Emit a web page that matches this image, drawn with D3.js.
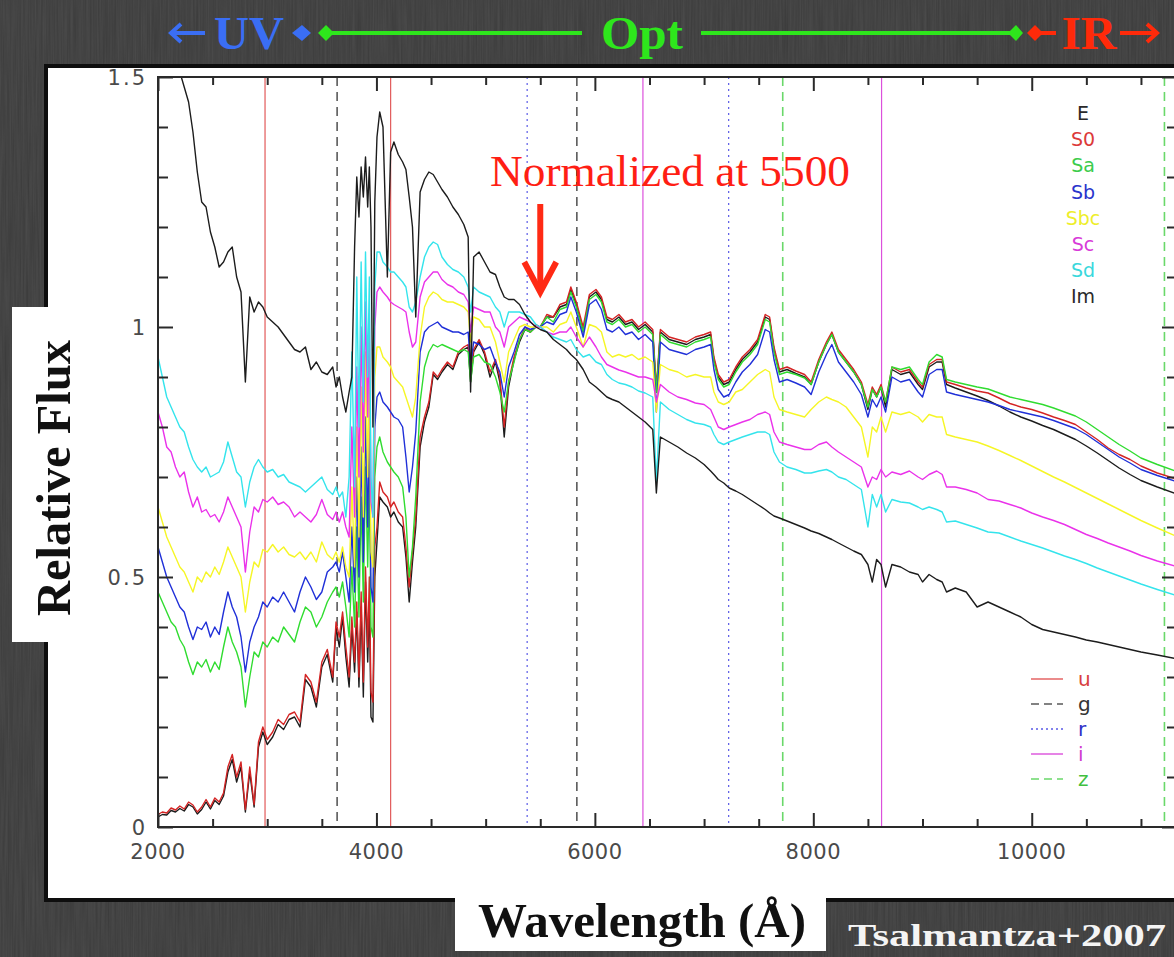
<!DOCTYPE html>
<html>
<head>
<meta charset="utf-8">
<title>Galaxy template spectra</title>
<script src="https://cdn.jsdelivr.net/npm/d3@7/dist/d3.min.js"></script>
<style>
  html, body { margin: 0; padding: 0; background: #3a3a3a; overflow: hidden; }
  svg { display: block; }
</style>
</head>
<body>
<svg id="chart" width="1174" height="957"></svg>
<script>
// Wavelength grid (Angstrom) shared by all template spectra
const wave = [
  2000,2040,2080,2120,2160,2200,2240,2280,2320,2360,2400,2440,2480,2520,2560,2600,2640,2680,2720,2760,2800,2840,2880,2920,2960,3000,3050,3100,3150,3200,3250,3300,3350,3400,3450,3500,3550,3600,
  3630,3660,3690,3720,3750,3775,3800,3820,3840,3860,3880,3900,3920,3935,3950,3968,3985,4005,4030,4060,4100,4130,4160,4200,4240,4270,4300,4330,4360,4400,4440,4480,
  4520,4560,4600,4650,4700,4750,4800,4840,4862,4890,4940,4990,5040,5090,5130,5170,5210,5260,5310,5360,5410,5460,5500,5560,5620,5680,5740,5780,5830,5893,5950,6010,
  6060,6110,6160,6220,6280,6340,6400,6460,6530,6563,6600,6680,6760,6840,6920,7000,7060,7090,7130,7180,7230,7290,7350,7420,7490,7560,7600,7640,7690,7760,7840,7920,7980,8050,8120,8170,8230,8300,8370,8440,8500,8540,8580,8620,8662,8720,8800,8880,8960,9000,9060,9130,9180,9220,9300,9400,
  9500,9600,9700,9800,9900,10000,10100,10200,10300,10400,10500,10600,10700,10800,10900,11000,11150,11340
];

// Relative flux of each template, normalised at 5500 A
const fluxE = [
  .02,.025,.024,.033,.03,.037,.032,.045,.04,.026,.035,.05,.036,.053,.045,.062,.11,.135,.09,.12,.03,.11,.04,.16,.19,.165,.18,.205,.195,.215,.22,.2,.295,.28,.24,.32,.345,.29,
  .40,.36,.42,.34,.28,.40,.31,.43,.28,.44,.26,.49,.33,.45,.22,.21,.50,.57,.66,.65,.64,.62,.63,.61,.60,.54,.45,.53,.60,.76,.81,.84,
  .905,.895,.91,.925,.915,.945,.955,.96,.89,.95,.97,.945,.90,.93,.89,.78,.88,.935,.97,.995,.99,1.0,1.0,1.02,1.02,1.04,1.045,1.075,1.045,.99,1.06,1.07,
  1.055,1.015,1.01,1.02,1.005,1.01,.995,1.005,.99,.87,.99,.975,.97,.965,.975,.98,.985,.935,.9,.885,.89,.915,.935,.95,.97,1.02,1.015,.955,.91,.915,.907,.9,.885,.93,.965,.985,.95,.93,.91,.885,.835,.875,.86,.88,.84,.915,.905,.91,.885,.875,.92,.93,.93,.885,.878,.87,
  .862,.853,.842,.83,.82,.812,.803,.795,.785,.775,.762,.748,.733,.718,.705,.693,.68,.665
];
const fluxS0 = [
  .025,.03,.028,.038,.034,.042,.036,.05,.044,.03,.04,.055,.04,.058,.05,.068,.12,.145,.10,.13,.035,.12,.045,.17,.20,.175,.19,.215,.205,.225,.23,.21,.305,.29,.25,.33,.355,.30,
  .41,.38,.43,.36,.30,.42,.33,.45,.30,.47,.29,.52,.36,.50,.27,.25,.56,.60,.69,.67,.66,.64,.65,.63,.62,.56,.48,.55,.62,.78,.82,.85,
  .91,.90,.915,.93,.92,.95,.96,.965,.90,.955,.975,.95,.91,.935,.90,.80,.89,.94,.975,1.0,.99,1.005,1.0,1.025,1.02,1.045,1.05,1.08,1.05,1.0,1.065,1.075,
  1.06,1.02,1.015,1.025,1.01,1.015,1.0,1.01,.995,.88,.995,.98,.975,.97,.98,.985,.99,.94,.905,.89,.895,.92,.94,.955,.975,1.025,1.02,.96,.915,.92,.912,.905,.89,.935,.97,.99,.955,.935,.915,.89,.845,.88,.865,.885,.85,.92,.91,.915,.89,.88,.925,.935,.935,.89,.885,.878,
  .872,.868,.858,.847,.84,.835,.828,.82,.813,.805,.79,.775,.758,.745,.735,.722,.708,.695
];
const fluxSa = [
  .47,.45,.43,.41,.40,.375,.36,.33,.305,.33,.32,.335,.31,.33,.315,.36,.40,.37,.35,.32,.24,.30,.35,.34,.37,.36,.38,.37,.40,.385,.37,.41,.44,.43,.40,.42,.45,.47,
  .48,.46,.49,.44,.38,.52,.40,.60,.42,.66,.45,.72,.52,.70,.40,.38,.70,.76,.78,.75,.73,.72,.71,.70,.68,.62,.50,.56,.66,.85,.92,.95,
  .965,.96,.965,.96,.955,.95,.955,.95,.89,.94,.945,.93,.925,.90,.87,.83,.89,.93,.975,.995,.99,1.0,1.0,1.02,1.01,1.035,1.04,1.07,1.04,.99,1.055,1.065,
  1.05,1.01,1.005,1.015,1.0,1.005,.99,1.0,.985,.87,.985,.97,.965,.96,.97,.975,.98,.93,.895,.88,.885,.91,.93,.945,.965,1.015,1.01,.95,.905,.91,.905,.898,.885,.93,.965,.985,.95,.93,.91,.885,.84,.875,.86,.88,.85,.92,.915,.92,.895,.885,.93,.945,.94,.895,.89,.885,
  .88,.876,.868,.86,.855,.85,.845,.838,.83,.822,.81,.795,.78,.765,.752,.738,.725,.71
];
const fluxSb = [
  .56,.53,.50,.48,.46,.44,.43,.40,.375,.40,.395,.41,.38,.40,.385,.43,.47,.44,.42,.38,.31,.37,.40,.42,.45,.44,.46,.45,.47,.45,.43,.47,.50,.48,.455,.47,.51,.52,
  .53,.51,.55,.50,.45,.60,.47,.70,.50,.76,.53,.82,.60,.80,.48,.45,.80,.86,.87,.85,.84,.83,.82,.815,.80,.74,.67,.72,.79,.95,.99,1.0,
  1.005,1.01,1.0,.995,.99,.99,.985,.99,.92,.97,.965,.955,.96,.93,.91,.86,.92,.95,.985,1.0,.995,1.0,1.0,1.01,1.005,1.025,1.03,1.06,1.03,.98,1.045,1.055,
  1.035,.995,.99,1.0,.985,.99,.975,.985,.97,.83,.97,.955,.95,.945,.955,.96,.965,.915,.875,.86,.865,.89,.91,.925,.945,.995,.99,.935,.89,.895,.888,.88,.865,.91,.945,.965,.93,.91,.89,.865,.82,.855,.84,.86,.83,.90,.89,.895,.87,.86,.905,.915,.915,.87,.865,.86,
  .855,.85,.843,.835,.83,.825,.82,.813,.805,.797,.785,.77,.755,.74,.728,.715,.703,.69
];
const fluxSbc = [
  .64,.61,.58,.56,.54,.52,.51,.49,.47,.50,.49,.51,.50,.52,.505,.53,.56,.54,.52,.50,.43,.49,.53,.52,.555,.55,.565,.55,.56,.545,.54,.55,.535,.55,.53,.57,.545,.535,
  .55,.53,.56,.52,.50,.68,.52,.80,.58,.88,.62,.95,.70,.92,.55,.52,.90,.96,.96,.94,.93,.92,.90,.89,.88,.86,.84,.82,.86,.98,1.04,1.06,
  1.07,1.065,1.055,1.05,1.05,1.045,1.04,1.03,.97,1.02,1.015,1.0,1.0,.97,.93,.89,.95,.975,1.0,1.005,1.0,1.0,1.0,1.0,.99,1.005,1.01,1.03,1.0,.96,1.005,1.0,
  .99,.95,.94,.945,.94,.945,.935,.94,.93,.83,.925,.915,.91,.90,.905,.90,.90,.87,.85,.845,.85,.87,.875,.89,.905,.915,.91,.86,.835,.83,.825,.82,.835,.85,.86,.855,.85,.84,.82,.80,.74,.80,.79,.82,.79,.83,.825,.83,.82,.81,.825,.82,.82,.785,.78,.775,
  .77,.762,.753,.743,.733,.722,.711,.70,.69,.679,.668,.657,.646,.635,.624,.613,.598,.58
];
const fluxSc = [
  .83,.80,.76,.75,.72,.70,.71,.67,.64,.66,.63,.635,.62,.625,.61,.63,.66,.64,.62,.60,.51,.59,.64,.63,.655,.65,.66,.645,.65,.64,.62,.63,.62,.61,.625,.655,.625,.615,
  .63,.61,.63,.60,.58,.80,.62,.92,.70,1.0,.75,1.05,.82,1.02,.65,.62,1.0,1.07,1.08,1.07,1.06,1.05,1.045,1.04,1.035,1.03,.99,.96,.97,1.06,1.09,1.10,
  1.11,1.11,1.095,1.085,1.08,1.07,1.065,1.05,.99,1.04,1.035,1.03,1.03,1.0,.99,.96,1.0,1.01,1.02,1.015,1.01,1.0,1.0,.99,.985,.99,.99,1.0,.98,.96,.98,.96,
  .94,.925,.92,.914,.91,.905,.90,.90,.895,.85,.885,.87,.86,.855,.848,.845,.835,.82,.80,.795,.80,.805,.81,.815,.825,.83,.825,.79,.77,.765,.76,.755,.755,.765,.77,.76,.75,.74,.73,.72,.68,.70,.695,.715,.70,.71,.705,.712,.70,.695,.705,.712,.705,.68,.68,.675,
  .668,.655,.652,.645,.638,.628,.62,.613,.605,.595,.585,.577,.568,.56,.552,.543,.532,.52
];
const fluxSd = [
  .94,.90,.86,.84,.82,.80,.79,.76,.735,.72,.71,.72,.70,.705,.71,.73,.77,.74,.71,.70,.64,.69,.72,.735,.72,.71,.715,.70,.705,.69,.685,.68,.67,.68,.69,.70,.675,.665,
  .68,.66,.67,.62,.70,.95,.68,1.10,.80,1.13,.85,1.15,.90,1.10,.70,.62,1.08,1.15,1.15,1.13,1.12,1.11,1.11,1.10,1.09,1.08,1.04,1.03,1.05,1.10,1.14,1.16,
  1.17,1.165,1.14,1.125,1.115,1.11,1.10,1.08,1.03,1.08,1.07,1.065,1.06,1.04,1.03,1.0,1.03,1.03,1.03,1.025,1.02,1.005,1.0,.99,.98,.975,.97,.975,.955,.94,.945,.93,
  .925,.905,.895,.888,.885,.88,.872,.868,.86,.69,.85,.835,.825,.815,.808,.805,.80,.785,.77,.765,.77,.775,.78,.785,.79,.79,.785,.75,.73,.72,.715,.708,.708,.712,.715,.71,.70,.695,.685,.675,.60,.665,.64,.665,.63,.655,.65,.648,.64,.635,.64,.635,.63,.61,.612,.605,
  .598,.59,.588,.58,.572,.565,.558,.55,.542,.535,.527,.518,.51,.502,.494,.486,.475,.462
];
const fluxIm = [
  1.62,1.59,1.57,1.55,1.53,1.51,1.48,1.45,1.39,1.31,1.25,1.24,1.19,1.16,1.12,1.13,1.15,1.16,1.10,1.07,.89,1.06,1.03,1.05,1.04,1.02,1.01,1.0,.985,.97,.955,.95,.96,.915,.93,.91,.905,.92,
  .88,.90,.86,.83,.87,.90,1.16,1.30,1.22,1.32,1.26,1.34,1.24,1.32,1.20,.80,1.25,1.38,1.43,1.40,1.10,1.35,1.37,1.345,1.33,1.315,1.26,1.20,1.02,1.27,1.295,1.31,
  1.305,1.29,1.275,1.26,1.24,1.225,1.205,1.18,.87,1.14,1.15,1.13,1.11,1.105,1.08,1.06,1.055,1.055,1.045,1.025,1.01,1.0,.995,.99,.975,.965,.955,.945,.935,.915,.89,.88,
  .87,.86,.855,.85,.84,.83,.82,.81,.795,.668,.78,.77,.76,.748,.738,.725,.712,.705,.695,.688,.678,.672,.665,.655,.645,.635,.628,.622,.618,.612,.605,.598,.592,.587,.58,.575,.568,.56,.552,.545,.525,.49,.535,.525,.48,.525,.52,.51,.505,.49,.505,.495,.49,.47,.478,.47,
  .44,.45,.44,.43,.42,.405,.395,.39,.385,.38,.374,.37,.365,.36,.355,.35,.344,.336
];

const seriesNames  = ["E", "S0", "Sa", "Sb", "Sbc", "Sc", "Sd", "Im"];
const seriesFlux   = [fluxE, fluxS0, fluxSa, fluxSb, fluxSbc, fluxSc, fluxSd, fluxIm];
const seriesColors = ["#1c1c1c", "#d42424", "#30dc30", "#2030d8", "#f6f626", "#ea32ea", "#34e4ec", "#1c1c1c"];
const legendColors = ["#2a2a2a", "#dc3a3a", "#3ccc4c", "#2a34cc", "#eeee2a", "#d83ad8", "#3ad8dc", "#2a2a2a"];

// SDSS filter band edges (Angstrom)
const filterNames  = ["u", "g", "r", "i", "z"];
const filterEdges  = [[2980, 4130], [3640, 5835], [5380, 7225], [6440, 8625], [7720, 11215]];
const filterColors = ["#e25a5a", "#5a5a5a", "#5a5ae6", "#dc50dc", "#6ad86a"];
const filterText   = ["#d84040", "#333333", "#3030c8", "#d040d0", "#40c040"];
const filterDash   = [null, "9,6", "2,4", null, "9,6"];
const filterWidth  = [1.2, 1.6, 1.2, 1.2, 1.6];

const xMajorTicks = [2000, 4000, 6000, 8000, 10000];
const yMajorTicks = [0, 0.5, 1, 1.5];
const yTickLabels = ["0", "0.5", "1", "1.5"];

const W = 1174, H = 957;
const svg = d3.select("#chart");

// ---- background with a faint brushed texture
const defs = svg.append("defs");
const tex = defs.append("filter").attr("id", "tex").attr("x", 0).attr("y", 0).attr("width", 1).attr("height", 1);
tex.append("feTurbulence").attr("type", "fractalNoise").attr("baseFrequency", "0.6 0.015").attr("numOctaves", 2).attr("seed", 3);
tex.append("feColorMatrix").attr("values", "0 0 0 0 0.3  0 0 0 0 0.3  0 0 0 0 0.3  0 0 0 0.35 0");
tex.append("feComposite").attr("in2", "SourceGraphic").attr("operator", "in");
svg.append("rect").attr("width", W).attr("height", H).attr("fill", "#3a3a3a");
svg.append("rect").attr("width", W).attr("height", H).attr("fill", "#3a3a3a").attr("filter", "url(#tex)").attr("opacity", 0.6);

// ---- header: UV / Opt / IR ranges
const hdr = svg.append("g");
const hy = 33;
const blue = "#3a6ef4", green = "#2ee61c", red = "#ff2a0a";
hdr.append("path").attr("d", `M171,${hy} L205,${hy} M181,${hy-9} L171,${hy} L181,${hy+9}`)
  .attr("stroke", blue).attr("stroke-width", 4).attr("fill", "none");
hdr.append("text").attr("x", 249).attr("y", 49).attr("text-anchor", "middle")
  .attr("font-family", "Liberation Serif, serif").attr("font-weight", "bold").attr("font-size", 46)
  .attr("fill", blue).attr("textLength", 70).attr("lengthAdjust", "spacingAndGlyphs").text("UV");
hdr.append("path").attr("d", `M292,${hy} L302,${hy-8} L311,${hy} L302,${hy+8} Z`).attr("fill", blue);
hdr.append("path").attr("d", `M318,${hy} L326,${hy-8} L334,${hy} L326,${hy+8} Z`).attr("fill", green);
hdr.append("line").attr("x1", 330).attr("x2", 582).attr("y1", hy).attr("y2", hy).attr("stroke", green).attr("stroke-width", 4);
hdr.append("text").attr("x", 642).attr("y", 49).attr("text-anchor", "middle")
  .attr("font-family", "Liberation Serif, serif").attr("font-weight", "bold").attr("font-size", 46)
  .attr("fill", green).attr("textLength", 82).attr("lengthAdjust", "spacingAndGlyphs").text("Opt");
hdr.append("line").attr("x1", 701).attr("x2", 1012).attr("y1", hy).attr("y2", hy).attr("stroke", green).attr("stroke-width", 4);
hdr.append("path").attr("d", `M1008,${hy} L1016,${hy-8} L1023,${hy} L1016,${hy+8} Z`).attr("fill", green);
hdr.append("path").attr("d", `M1027,${hy} L1035,${hy-8} L1043,${hy} L1035,${hy+8} Z`).attr("fill", red);
hdr.append("line").attr("x1", 1040).attr("x2", 1056).attr("y1", hy).attr("y2", hy).attr("stroke", red).attr("stroke-width", 4);
hdr.append("text").attr("x", 1089).attr("y", 49).attr("text-anchor", "middle")
  .attr("font-family", "Liberation Serif, serif").attr("font-weight", "bold").attr("font-size", 46)
  .attr("fill", red).attr("textLength", 55).attr("lengthAdjust", "spacingAndGlyphs").text("IR");
hdr.append("path").attr("d", `M1120,${hy} L1157,${hy} M1147,${hy-9} L1157,${hy} L1147,${hy+9}`)
  .attr("stroke", red).attr("stroke-width", 4).attr("fill", "none");

// ---- white figure panel with dark frame
svg.append("rect").attr("x", 46).attr("y", 66).attr("width", 1200).attr("height", 834)
  .attr("fill", "#ffffff").attr("stroke", "#0e0e0e").attr("stroke-width", 4);

// ---- scales
const x = d3.scaleLinear().domain([2000, 11330]).range([158, 1177]);
const y = d3.scaleLinear().domain([0, 1.5]).range([827, 77]);

const plot = svg.append("g");
defs.append("clipPath").attr("id", "plotclip").append("rect")
  .attr("x", 158).attr("y", 77).attr("width", 1177 - 158).attr("height", 827 - 77);

// ---- filter band edges
const bands = plot.append("g").attr("clip-path", "url(#plotclip)");
filterEdges.forEach((edges, i) => {
  edges.forEach(w => {
    const l = bands.append("line").attr("x1", x(w)).attr("x2", x(w)).attr("y1", y(1.5)).attr("y2", y(0))
      .attr("stroke", filterColors[i]).attr("stroke-width", filterWidth[i]);
    if (filterDash[i]) l.attr("stroke-dasharray", filterDash[i]);
  });
});

// ---- spectra
const line = d3.line().x(d => x(d[0])).y(d => y(d[1]));
const spectra = plot.append("g").attr("clip-path", "url(#plotclip)");
seriesFlux.forEach((flux, i) => {
  const pts = wave.map((w, k) => [w, flux[k]]).filter(d => d[1] !== undefined);
  spectra.append("path").datum(pts).attr("d", line)
    .attr("fill", "none").attr("stroke", seriesColors[i]).attr("stroke-width", 1.4)
    .attr("stroke-linejoin", "round");
});

// ---- axes (ticks point inwards, PGPLOT style)
const axisColor = "#2a2a2a";
const xMinor = d3.range(2000, 11331, 500).filter(v => !xMajorTicks.includes(v));
const yMinor = d3.range(0, 1.51, 0.1).filter(v => !yMajorTicks.some(t => Math.abs(t - v) < 1e-6));
function styleAxis(g) {
  g.select(".domain").remove();
  g.selectAll(".tick line").attr("stroke", axisColor).attr("stroke-width", 2);
  g.selectAll(".tick text").remove();
}
plot.append("g").attr("transform", "translate(0,827)").call(d3.axisBottom(x).tickValues(xMinor).tickSize(-8)).call(styleAxis);
plot.append("g").attr("transform", "translate(0,827)").call(d3.axisBottom(x).tickValues(xMajorTicks).tickSize(-14)).call(styleAxis);
plot.append("g").attr("transform", "translate(0,77)").call(d3.axisTop(x).tickValues(xMinor).tickSize(-8)).call(styleAxis);
plot.append("g").attr("transform", "translate(0,77)").call(d3.axisTop(x).tickValues(xMajorTicks).tickSize(-14)).call(styleAxis);
plot.append("g").attr("transform", "translate(158,0)").call(d3.axisLeft(y).tickValues(yMinor).tickSize(-10)).call(styleAxis);
plot.append("g").attr("transform", "translate(158,0)").call(d3.axisLeft(y).tickValues(yMajorTicks).tickSize(-15)).call(styleAxis);
plot.append("g").attr("transform", "translate(1177,0)").call(d3.axisRight(y).tickValues(yMinor).tickSize(-10)).call(styleAxis);
plot.append("g").attr("transform", "translate(1177,0)").call(d3.axisRight(y).tickValues(yMajorTicks).tickSize(-15)).call(styleAxis);
plot.append("rect").attr("x", 158).attr("y", 77).attr("width", 1177 - 158).attr("height", 750)
  .attr("fill", "none").attr("stroke", axisColor).attr("stroke-width", 2);

// tick labels
const tickFont = "DejaVu Sans, sans-serif";
plot.selectAll(".xlab").data(xMajorTicks).enter().append("text")
  .attr("x", d => x(d)).attr("y", 859).attr("text-anchor", "middle")
  .attr("font-family", tickFont).attr("font-size", 21).attr("fill", "#4a4a4a").attr("letter-spacing", 0.5)
  .text(d => d);
plot.selectAll(".ylab").data(yMajorTicks).enter().append("text")
  .attr("x", 147).attr("y", d => y(d) + 8).attr("text-anchor", "end")
  .attr("font-family", tickFont).attr("font-size", 21).attr("fill", "#4a4a4a").attr("letter-spacing", 2)
  .text((d, i) => yTickLabels[i]);

// ---- template legend (top right)
const leg = plot.append("g");
seriesNames.forEach((n, i) => {
  leg.append("text").attr("x", 1083).attr("y", 120 + i * 26.2).attr("text-anchor", "middle")
    .attr("font-family", tickFont).attr("font-size", 19).attr("fill", legendColors[i]).text(n);
});

// ---- filter legend (bottom right)
filterNames.forEach((n, i) => {
  const ly = 679 + i * 25;
  const l = leg.append("line").attr("x1", 1031).attr("x2", 1063).attr("y1", ly).attr("y2", ly)
    .attr("stroke", filterColors[i]).attr("stroke-width", 1.4);
  if (filterDash[i]) l.attr("stroke-dasharray", filterDash[i] === "2,4" ? "2,3" : "8,5");
  leg.append("text").attr("x", 1078).attr("y", ly + 7).attr("font-family", tickFont).attr("font-size", 20)
    .attr("fill", filterText[i]).text(n);
});

// ---- normalisation annotation
const ann = svg.append("g");
ann.append("text").attr("x", 490).attr("y", 186).attr("font-family", "Liberation Serif, serif")
  .attr("font-size", 44).attr("fill", "#ff1e14").attr("textLength", 360).attr("lengthAdjust", "spacingAndGlyphs")
  .text("Normalized at 5500");
ann.append("line").attr("x1", x(5500)).attr("x2", x(5500)).attr("y1", 204).attr("y2", 288)
  .attr("stroke", "#ff2a14").attr("stroke-width", 6);
ann.append("path").attr("d", `M${x(5500) - 16},262 L${x(5500)},292 L${x(5500) + 16},262`)
  .attr("fill", "none").attr("stroke", "#ff2a14").attr("stroke-width", 6);

// ---- axis titles on white tabs
svg.append("rect").attr("x", 12).attr("y", 307).attr("width", 40).attr("height", 335).attr("fill", "#ffffff");
svg.append("text").attr("transform", "translate(70,478) rotate(-90)").attr("text-anchor", "middle")
  .attr("font-family", "Liberation Serif, serif").attr("font-weight", "bold").attr("font-size", 48)
  .attr("fill", "#111").attr("textLength", 276).attr("lengthAdjust", "spacingAndGlyphs").text("Relative Flux");
svg.append("rect").attr("x", 455).attr("y", 893).attr("width", 371).attr("height", 58).attr("fill", "#ffffff");
svg.append("text").attr("x", 642).attr("y", 937).attr("text-anchor", "middle")
  .attr("font-family", "Liberation Serif, serif").attr("font-weight", "bold").attr("font-size", 48)
  .attr("fill", "#111").attr("textLength", 328).attr("lengthAdjust", "spacingAndGlyphs").text("Wavelength (Å)");
svg.append("text").attr("x", 848).attr("y", 946)
  .attr("font-family", "Liberation Serif, serif").attr("font-weight", "bold").attr("font-size", 32)
  .attr("fill", "#f4f4f4").attr("textLength", 318).attr("lengthAdjust", "spacingAndGlyphs").text("Tsalmantza+2007");
</script>
</body>
</html>
